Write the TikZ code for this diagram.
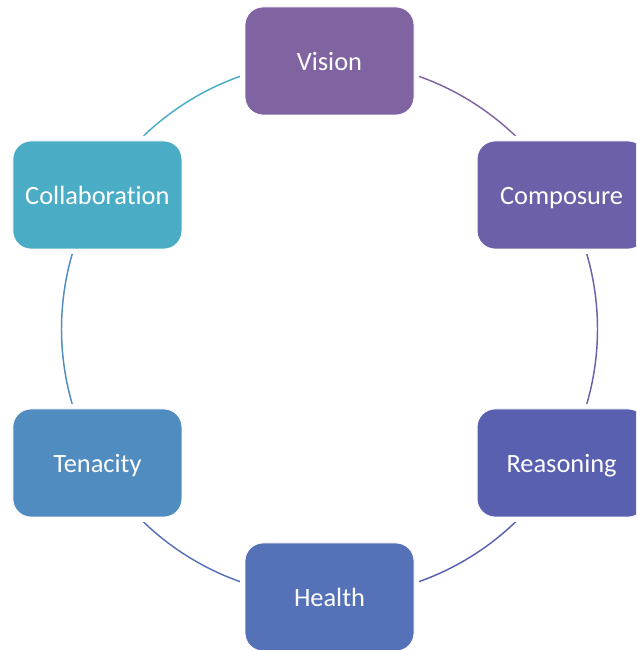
\documentclass[tikz,border=0pt]{standalone}
\usepackage{fontspec}
\setmainfont{Carlito}[Ligatures={NoCommon,NoRare}]
\usetikzlibrary{backgrounds}
\definecolor{cVision}{RGB}{128,100,162}
\definecolor{cComposure}{RGB}{108,97,168}
\definecolor{cReasoning}{RGB}{90,96,176}
\definecolor{cHealth}{RGB}{85,114,184}
\definecolor{cTenacity}{RGB}{80,140,192}
\definecolor{cCollab}{RGB}{75,172,198}
\begin{document}
\begin{tikzpicture}[x=0.75pt,y=0.75pt,
  stage/.style={rectangle, rounded corners=13.5pt,
    minimum width=126.75pt, minimum height=81pt, inner sep=0pt,
    text height=14pt, text depth=0pt,
    draw=white, line width=0.6pt, text=white,
    font=\fontsize{19.8}{24}\selectfont,
    preaction={draw=white, line width=7.5pt}},
  ring/.style={line width=1.1pt}]
\useasboundingbox (0,0) rectangle (636,650);
\clip (0,0) rectangle (636,650);
\coordinate (ctr) at (329.5,321);

% six stages placed evenly on the ring
\node[stage, fill=cVision]     (vision)    at ([shift={(90:268)}]ctr)  {Vision};
\node[stage, fill=cComposure]  (composure) at ([shift={(30:268)}]ctr)  {Composure};
\node[stage, fill=cReasoning]  (reasoning) at ([shift={(-30:268)}]ctr) {Reasoning};
\node[stage, fill=cHealth]     (health)    at ([shift={(-90:268)}]ctr) {Health};
\node[stage, fill=cTenacity]   (tenacity)  at ([shift={(210:268)}]ctr) {Tenacity};
\node[stage, fill=cCollab]     (collab)    at ([shift={(150:268)}]ctr) {Collaboration};

% ring segments, hidden under the white halo of each box
\begin{scope}[on background layer]
\draw[ring, cVision]    (vision.center)    arc[start angle=90,  end angle=30,   radius=201pt];
\draw[ring, cComposure] (composure.center) arc[start angle=30,  end angle=-30,  radius=201pt];
\draw[ring, cReasoning] (reasoning.center) arc[start angle=-30, end angle=-90,  radius=201pt];
\draw[ring, cHealth]    (health.center)    arc[start angle=-90, end angle=-150, radius=201pt];
\draw[ring, cTenacity]  (tenacity.center)  arc[start angle=210, end angle=150,  radius=201pt];
\draw[ring, cCollab]    (collab.center)    arc[start angle=150, end angle=90,   radius=201pt];
\end{scope}
\end{tikzpicture}
\end{document}
